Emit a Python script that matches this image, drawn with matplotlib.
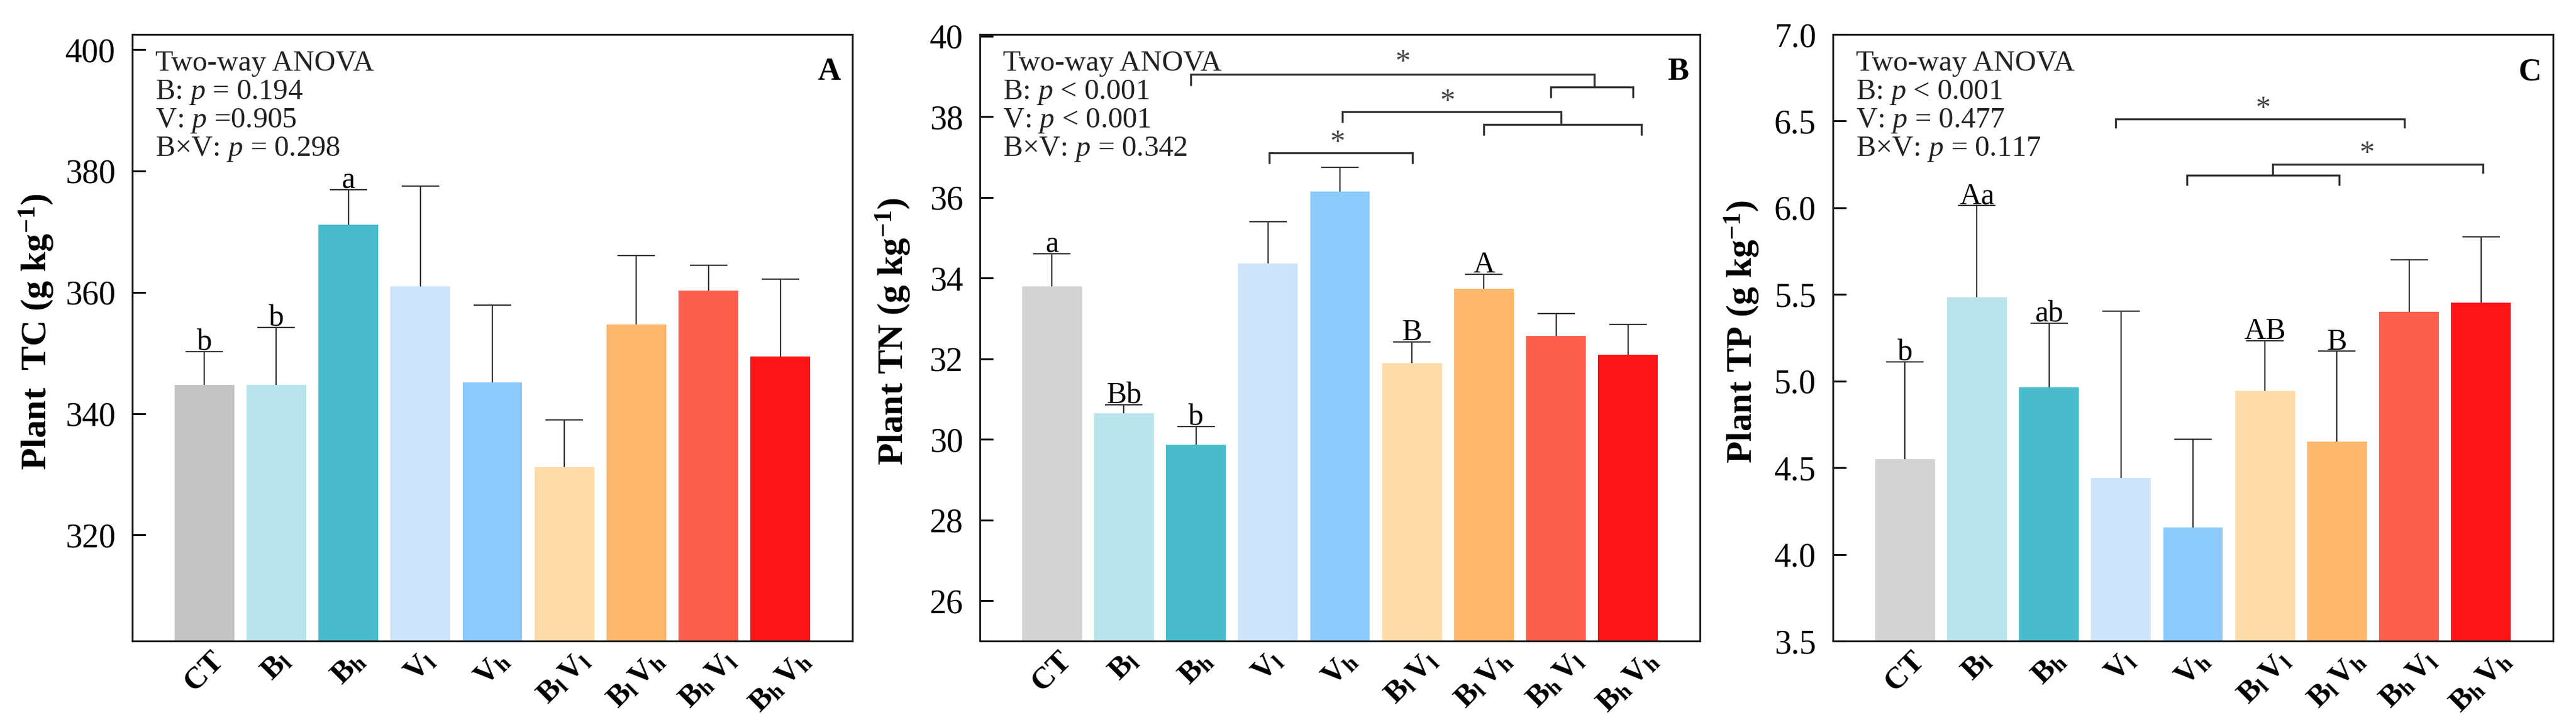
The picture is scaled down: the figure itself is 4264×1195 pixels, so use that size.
import matplotlib
matplotlib.use('Agg')
import matplotlib.pyplot as plt
from matplotlib.ticker import FormatStrFormatter

plt.rcParams['font.family'] = ['Liberation Serif', 'DejaVu Serif']
plt.rcParams['mathtext.fontset'] = 'custom'
plt.rcParams['mathtext.rm'] = 'Liberation Serif'
plt.rcParams['mathtext.it'] = 'Liberation Serif:italic'
plt.rcParams['mathtext.bf'] = 'Liberation Serif:bold'

# ---------------- data ----------------
categories = [r'$\mathbf{CT}$', r'$\mathbf{B_l}$', r'$\mathbf{B_h}$', r'$\mathbf{V_l}$',
              r'$\mathbf{V_h}$', r'$\mathbf{B_l\,V_l}$', r'$\mathbf{B_l\,V_h}$',
              r'$\mathbf{B_h\,V_l}$', r'$\mathbf{B_h\,V_h}$']

tc_mean = [344.7, 344.7, 371.1, 361.0, 345.1, 331.2, 354.7, 360.3, 349.4]
tc_se = [5.5, 9.5, 5.8, 16.5, 12.8, 7.8, 11.3, 4.2, 12.8]
tc_letters = ['b', 'b', 'a', '', '', '', '', '', '']
tc_anova = ['Two-way ANOVA', 'B: $p$ = 0.194', 'V: $p$ =0.905', 'B×V: $p$ = 0.298']

tn_mean = [33.79, 30.65, 29.87, 34.36, 36.15, 31.89, 33.74, 32.56, 32.10]
tn_se = [0.81, 0.20, 0.45, 1.04, 0.59, 0.53, 0.36, 0.56, 0.75]
tn_letters = ['a', 'Bb', 'b', '', '', 'B', 'A', '', '']
tn_anova = ['Two-way ANOVA', 'B: $p$ < 0.001', 'V: $p$ < 0.001', 'B×V: $p$ = 0.342']

tp_mean = [4.551, 5.483, 4.964, 4.442, 4.155, 4.943, 4.652, 5.400, 5.453]
tp_se = [0.56, 0.53, 0.37, 0.96, 0.51, 0.29, 0.52, 0.30, 0.38]
tp_letters = ['b', 'Aa', 'ab', '', '', 'AB', 'B', '', '']
tp_anova = ['Two-way ANOVA', 'B: $p$ < 0.001', 'V: $p$ = 0.477', 'B×V: $p$ = 0.117']

# significance brackets: (x_left, x_right, y_bar, y_left_end, y_right_end)
tn_brackets = [(1.93, 7.53, 39.05, 38.76, 38.74),
               (6.93, 8.07, 38.74, 38.46, 38.46),
               (4.03, 7.07, 38.13, 37.86, 37.81),
               (6.00, 8.19, 37.81, 37.54, 37.54),
               (3.02, 5.01, 37.11, 36.83, 36.83)]
tn_stars = [(4.87, 39.34), (5.49, 38.36), (3.97, 37.35)]

tp_brackets = [(2.93, 6.94, 6.512, 6.46, 6.46),
               (3.92, 6.03, 6.189, 6.128, 6.128),
               (5.11, 8.03, 6.25, 6.189, 6.198)]
tp_stars = [(4.97, 6.57), (6.42, 6.31)]

bar_colors = ['#C4C4C4', '#B9E4EB', '#49BBCB', '#CDE4FA', '#8BCAFB',
              '#FEDCA9', '#FDB86E', '#FD5F4F', '#FD1416']
ct_color_bc = '#D3D3D3'

# ---------------- figure ----------------
W, H = 4264, 1195
fig = plt.figure(figsize=(W / 100, H / 100), dpi=100)
ax_bottom = 1 - 1061 / H
ax_height = (1061 - 57) / H
ax_width = 1192 / W
axA = fig.add_axes([219 / W, ax_bottom, ax_width, ax_height])
axB = fig.add_axes([1622 / W, ax_bottom, ax_width, ax_height])
axC = fig.add_axes([3034 / W, ax_bottom, ax_width, ax_height])

LINE_C = '#333333'


def draw(ax, means, ses, ylim, yticks, fmt, ylabel, letters, anova, panel,
         colors, brackets=(), stars=(), label_x=-0.13):
    x = list(range(len(means)))
    ymin = ylim[0]
    ax.bar(x, [m - ymin for m in means], bottom=ymin, width=0.83,
           color=colors, edgecolor='none', zorder=2)
    tops = [m + s for m, s in zip(means, ses)]
    ax.vlines(x, means, tops, color=LINE_C, lw=1.6, zorder=3)
    ax.hlines(tops, [xi - 0.26 for xi in x], [xi + 0.26 for xi in x],
              color=LINE_C, lw=1.6, zorder=3)
    for xi, t, lab in zip(x, tops, letters):
        if lab:
            ax.annotate(lab, (xi, t), xytext=(0, 2), textcoords='offset points',
                        ha='center', va='baseline', fontsize=36, zorder=4)
    for (x1, x2, yb, y1, y2) in brackets:
        ax.plot([x1, x1, x2, x2], [y1, yb, yb, y2], color=LINE_C, lw=2.4,
                solid_capstyle='butt', solid_joinstyle='miter', zorder=4)
    for (sx, sy) in stars:
        ax.text(sx, sy, '*', ha='center', va='center', fontsize=36,
                color='#444444', zorder=4)
    ax.set_xlim(-1, 9)
    ax.set_ylim(*ylim)
    ax.set_yticks(yticks)
    ax.yaxis.set_major_formatter(FormatStrFormatter(fmt))
    ax.set_xticks(x)
    ax.set_xticklabels(categories, rotation=45, ha='center', va='top',
                       fontsize=37, fontweight='bold')
    ax.tick_params(axis='x', length=0, pad=7)
    ax.tick_params(axis='y', direction='in', length=16, width=2.2,
                   labelsize=40, pad=20)
    for sp in ax.spines.values():
        sp.set_linewidth(2.2)
        sp.set_color('#222222')
    ax.set_ylabel(ylabel, fontsize=43, fontweight='bold', va='center')
    ax.yaxis.set_label_coords(label_x, 0.51)
    y0 = 1 - 60 / 1004
    for i, line in enumerate(anova):
        ax.text(0.032, y0 - i * 0.0468, line, transform=ax.transAxes,
                ha='left', va='baseline', fontsize=35, color='#222222')
    ax.text(0.984, 0.962, panel, transform=ax.transAxes, ha='right', va='top',
            fontsize=38, fontweight='bold')


draw(axA, tc_mean, tc_se, (302.5, 402.5), [320, 340, 360, 380, 400], '%d',
     r'Plant  TC (g kg$^{\mathbf{-1}}$)', tc_letters, tc_anova, 'A',
     bar_colors, label_x=-0.133)
draw(axB, tn_mean, tn_se, (25, 40.04), list(range(26, 41, 2)), '%d',
     r'Plant TN (g kg$^{\mathbf{-1}}$)', tn_letters, tn_anova, 'B',
     [ct_color_bc] + bar_colors[1:], tn_brackets, tn_stars, label_x=-0.12)
draw(axC, tp_mean, tp_se, (3.5, 7.0), [3.5, 4.0, 4.5, 5.0, 5.5, 6.0, 6.5, 7.0],
     '%.1f', r'Plant TP (g kg$^{\mathbf{-1}}$)', tp_letters, tp_anova, 'C',
     [ct_color_bc] + bar_colors[1:], tp_brackets, tp_stars, label_x=-0.126)

fig.savefig('out.png', dpi=100)
